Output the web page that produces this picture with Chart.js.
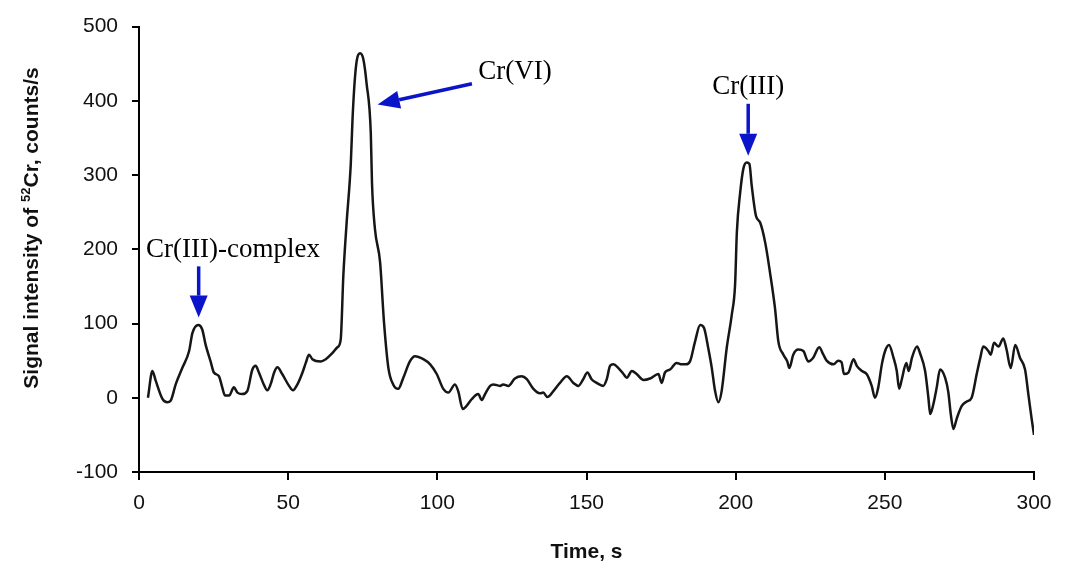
<!DOCTYPE html>
<html>
<head>
<meta charset="utf-8">
<title>Cr speciation - signal vs time</title>
<script src="https://cdn.jsdelivr.net/npm/chart.js@4.4.1/dist/chart.umd.min.js"></script>
<style>
  html, body { margin: 0; padding: 0; background: #fff; }
  #wrap { width: 1070px; height: 568px; }
</style>
</head>
<body>
<div id="wrap"><canvas id="signalChart"></canvas></div>
<script>
const timeValues = [
  3, 4.5, 5.6, 7.8, 9.5, 10.6, 12.3, 14.5, 16.8, 17.9, 19.9, 21.2, 22.3, 24.0, 25.1, 26.8, 27.9, 28.8,
  30.2, 31.8, 33, 34.6, 36.3, 38, 39.1, 40.2, 41.6, 43, 44.1, 45.3, 46.4, 48, 50.3, 51.6, 53.1, 54.8,
  55.9, 57, 58.1, 60.9, 62.6, 64.8, 66.5, 67.6, 68.5, 69.6, 71, 71.6, 72.7, 74.1, 75.2, 76.3, 77.7,
  78.1, 79.1, 80.8, 82.1, 83.6, 85.2, 86.9, 88.6, 90.8, 92.5, 95.3, 97.6, 99.8, 102, 103.7, 105.9,
  107, 108.5, 109.8, 111.5, 113.7, 114.9, 116, 117.7, 118.8, 121, 122.1, 123.8, 126, 128.3, 130,
  132.2, 134.4, 135.5, 136.9, 138.9, 141.1, 143.4, 145.6, 147.3, 148.9, 150.3, 151.7, 153.4, 155.6,
  156.8, 157.9, 159, 160.7, 162.4, 163.5, 165.2, 166.8, 169.1, 171.3, 174.1, 175.2, 176.3, 178,
  180.2, 181.9, 183.3, 184.7, 186.4, 188.1, 189.4, 190.8, 192, 193.1, 194.2, 195.3, 197, 198.7,
  199.8, 200.4, 201.5, 202.6, 203.7, 204.6, 205.4, 206.8, 208.2, 209.9, 211.5, 213.2, 214.3, 216,
  217.3, 218, 219.3, 221, 222.7, 224.3, 226, 228, 229.4, 230.5, 232.8, 234.4, 235.5, 236.3, 237.8,
  239.5, 240.6, 242.3, 243.9, 245.6, 246.7, 247.8, 249, 250.1, 251.4, 252.9, 254, 254.8, 255.7,
  257.2, 258, 259.1, 260.8, 261.8, 263.5, 264.6, 265.2, 266.3, 267.4, 268.5, 270.2, 271.3, 272.1,
  273, 274.1, 275.8, 277.5, 279.1, 280.8, 281.9, 283, 284.7, 285.5, 286.6, 288.1, 289.7, 290.8,
  292.2, 293.7, 295.3, 297, 298.1, 299.2, 300
];
const signalValues = [
  0, 36, 23, -1, -6, -4, 18, 40, 63, 87, 98, 92, 72, 49, 34, 29, 14, 3,
  3, 14, 7, 5, 9, 38, 43, 34, 20, 10, 18, 34, 41, 32, 16, 10, 18, 34,
  47, 58, 52, 49, 52, 60, 68, 78, 165, 236, 316, 378, 445, 464, 456, 423, 356,
  289, 227, 183, 103, 40, 18, 12, 27, 49, 56, 52, 45, 32, 12, 7, 18,
  9, -15, -11, -2, 5, -3, 5, 16, 18, 16, 18, 16, 26, 29, 25,
  12, 6, 7, 1, 9, 20, 29, 20, 16, 25, 34, 25, 20, 16,
  25, 43, 45, 40, 32, 27, 36, 32, 24, 26, 32, 20, 34, 38,
  47, 45, 45, 49, 76, 98, 94, 67, 40, 9, -6, 9, 67, 112,
  152, 223, 276, 309, 317, 315, 285, 245, 236, 209, 169, 120, 76, 58,
  49, 40, 58, 65, 63, 49, 54, 68, 58, 50, 45, 50, 48, 32, 34,
  52, 43, 36, 32, 16, 0, 14, 45, 63, 71, 54, 36, 12, 25,
  47, 36, 54, 69, 60, 36, 0, -22, -8, 14, 38, 27, 7, -22,
  -42, -28, -11, -5, 0, 32, 52, 69, 63, 58, 74, 69, 80, 65,
  40, 71, 54, 38, 5, -28, -50
];
const xTickValues = [0, 50, 100, 150, 200, 250, 300];
const yTickValues = [-100, 0, 100, 200, 300, 400, 500];

// Peak labels with arrows (data coordinates)
const peakNotes = [
  { text: 'Cr(III)-complex', at: [31.5, 199], from: [20, 177], to: [20, 108] },
  { text: 'Cr(VI)', at: [126, 439], from: [111.6, 423], to: [80, 395] },
  { text: 'Cr(III)', at: [204.2, 419], from: [204.2, 396], to: [204.2, 326] }
];

const SANS = '"Liberation Sans", Arial, Helvetica, sans-serif';
const SERIF = '"Liberation Serif", "Times New Roman", serif';

function drawArrow(ctx, x1, y1, x2, y2) {
  const angle = Math.atan2(y2 - y1, x2 - x1);
  const headLen = 22, headHalf = 9;
  const bx = x2 - headLen * Math.cos(angle);
  const by = y2 - headLen * Math.sin(angle);
  ctx.strokeStyle = '#0a14c8';
  ctx.fillStyle = '#0a14c8';
  ctx.lineWidth = 3.5;
  ctx.beginPath();
  ctx.moveTo(x1, y1);
  ctx.lineTo(bx, by);
  ctx.stroke();
  ctx.beginPath();
  ctx.moveTo(x2, y2);
  ctx.lineTo(bx + headHalf * Math.sin(angle), by - headHalf * Math.cos(angle));
  ctx.lineTo(bx - headHalf * Math.sin(angle), by + headHalf * Math.cos(angle));
  ctx.closePath();
  ctx.fill();
}

const peakNotesPlugin = {
  id: 'peakNotes',
  afterDatasetsDraw(chart) {
    const ctx = chart.ctx;
    const xs = chart.scales.x, ys = chart.scales.y;
    ctx.save();
    peakNotes.forEach(note => {
      ctx.font = '27px ' + SERIF;
      ctx.fillStyle = '#000';
      ctx.textAlign = 'center';
      ctx.textBaseline = 'middle';
      ctx.fillText(note.text, xs.getPixelForValue(note.at[0]), ys.getPixelForValue(note.at[1]));
      drawArrow(ctx,
        xs.getPixelForValue(note.from[0]), ys.getPixelForValue(note.from[1]),
        xs.getPixelForValue(note.to[0]), ys.getPixelForValue(note.to[1]));
    });
    ctx.restore();
  }
};

// Axis titles drawn by hand so the 52 can be a real superscript
const axisTitlesPlugin = {
  id: 'axisTitles',
  afterDraw(chart) {
    const ctx = chart.ctx;
    const area = chart.chartArea;
    ctx.save();
    ctx.fillStyle = '#111';
    ctx.textBaseline = 'middle';

    ctx.font = 'bold 21px ' + SANS;
    ctx.textAlign = 'center';
    ctx.fillText('Time, s', (area.left + area.right) / 2, 552);

    const partA = 'Signal intensity of ';
    const sup = '52';
    const partB = 'Cr, counts/s';
    const mainFont = 'bold 21px ' + SANS;
    const supFont = 'bold 13px ' + SANS;
    ctx.font = mainFont;
    const wA = ctx.measureText(partA).width;
    const wB = ctx.measureText(partB).width;
    ctx.font = supFont;
    const wS = ctx.measureText(sup).width;
    const total = wA + wS + wB;

    ctx.translate(32, 228);
    ctx.rotate(-Math.PI / 2);
    ctx.textAlign = 'left';
    let pos = -total / 2;
    ctx.font = mainFont;
    ctx.fillText(partA, pos, 0);
    pos += wA;
    ctx.font = supFont;
    ctx.fillText(sup, pos, -6);
    pos += wS;
    ctx.font = mainFont;
    ctx.fillText(partB, pos, 0);
    ctx.restore();
  }
};

const points = timeValues.map((t, i) => ({ x: t, y: signalValues[i] }));

new Chart(document.getElementById('signalChart'), {
  type: 'line',
  data: {
    datasets: [{
      data: points,
      borderColor: '#161616',
      borderWidth: 2.5,
      pointRadius: 0,
      cubicInterpolationMode: 'monotone',
      fill: false
    }]
  },
  options: {
    responsive: true,
    maintainAspectRatio: false,
    animation: false,
    layout: { padding: { top: 22, right: 36, left: 0, bottom: 0 } },
    plugins: {
      legend: { display: false },
      tooltip: { enabled: false }
    },
    scales: {
      x: {
        type: 'linear',
        min: 0,
        max: 300,
        afterBuildTicks: axis => { axis.ticks = xTickValues.map(v => ({ value: v })); },
        afterFit: axis => { axis.height = 96; },
        grid: { display: true, drawOnChartArea: false, drawTicks: true, tickLength: 8, color: '#000', lineWidth: 2 },
        border: { display: true, color: '#000', width: 2 },
        ticks: { color: '#111', padding: 11, font: { family: SANS, size: 21 } }
      },
      y: {
        min: -100,
        max: 500,
        afterBuildTicks: axis => { axis.ticks = yTickValues.map(v => ({ value: v })); },
        afterFit: axis => { axis.width = 139; },
        grid: { display: true, drawOnChartArea: false, drawTicks: true, tickLength: 7, color: '#000', lineWidth: 2 },
        border: { display: true, color: '#000', width: 2 },
        ticks: { color: '#111', padding: 14, font: { family: SANS, size: 21 } }
      }
    }
  },
  plugins: [peakNotesPlugin, axisTitlesPlugin]
});
</script>
</body>
</html>
